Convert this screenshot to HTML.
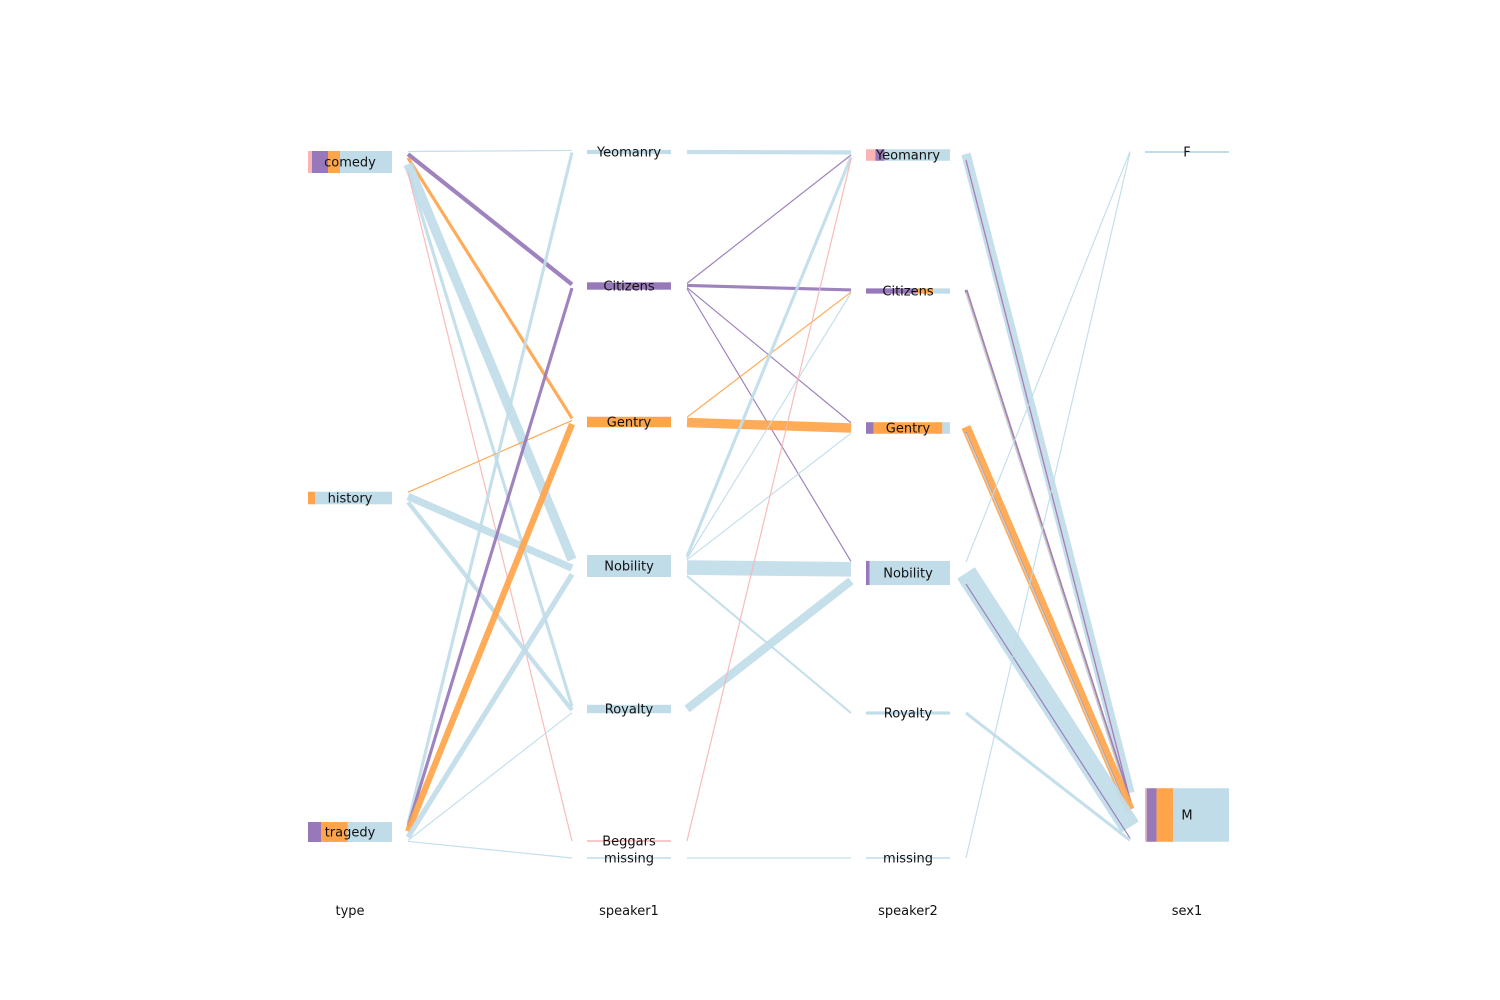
<!DOCTYPE html>
<html><head><meta charset="utf-8"><style>
html,body{margin:0;padding:0;background:#fff}
svg{display:block}
text{font-family:"DejaVu Sans","Liberation Sans",sans-serif;font-size:13px;fill:#111}
</style></head><body>
<svg id="chart" width="1500" height="1000"></svg>
<script>
// ---- data ----
const columns = ["type","speaker1","speaker2","sex1"];
const typeCats = ["comedy","history","tragedy"];
const speaker1Cats = ["Yeomanry","Citizens","Gentry","Nobility","Royalty","Beggars","missing"];
const speaker2Cats = ["Yeomanry","Citizens","Gentry","Nobility","Royalty","missing"];
const sexCats = ["F","M"];
const linksTypeS1 = [
 ["comedy","Yeomanry","blue",1],["comedy","Citizens","purple",4],["comedy","Gentry","orange",3],
 ["comedy","Nobility","blue",9],["comedy","Royalty","blue",3],["comedy","Beggars","pink",1],
 ["history","Gentry","orange",1],["history","Nobility","blue",7],["history","Royalty","blue",4],
 ["tragedy","Yeomanry","blue",3],["tragedy","Citizens","purple",3],["tragedy","Gentry","orange",6],
 ["tragedy","Nobility","blue",5],["tragedy","Royalty","blue",1],["tragedy","missing","blue",1]
];
const linksS1S2 = [
 ["Yeomanry","Yeomanry","blue",4],
 ["Citizens","Yeomanry","purple",1],["Citizens","Citizens","purple",3],["Citizens","Gentry","purple",1],["Citizens","Nobility","purple",1],
 ["Gentry","Citizens","orange",1],["Gentry","Gentry","orange",9],
 ["Nobility","Yeomanry","blue",3],["Nobility","Citizens","blue",1],["Nobility","Gentry","blue",1],["Nobility","Nobility","blue",14],["Nobility","Royalty","blue",2],
 ["Royalty","Nobility","blue",8],
 ["Beggars","Yeomanry","pink",1],
 ["missing","missing","blue",1]
];
const linksS2Sex = [
 ["Yeomanry","M","blue",9],["Yeomanry","M","pink",1],["Yeomanry","M","purple",1],
 ["Citizens","M","purple",3],["Citizens","M","orange",1],["Citizens","M","blue",1],
 ["Gentry","M","orange",9],["Gentry","M","purple",1],["Gentry","M","blue",1],
 ["Nobility","F","blue",1],["Nobility","M","blue",20],["Nobility","M","purple",1],
 ["Royalty","M","blue",3],
 ["missing","F","blue",1]
];
// ---- layout ----
const COLORS = {pink:"#f9b5b5",purple:"#9778b8",orange:"#ffa44a",blue:"#c0dce9"};
const colorOrder = ["pink","purple","orange","blue"];
const colX = [308,587,866,1145];
const boxW = 84;
const nodeY = [
 {comedy:162,history:498,tragedy:832},
 {Yeomanry:152,Citizens:286,Gentry:422,Nobility:566,Royalty:709,Beggars:841,missing:858},
 {Yeomanry:155,Citizens:291,Gentry:428,Nobility:573,Royalty:713,missing:858},
 {F:152,M:815}
];
const cats = [typeCats,speaker1Cats,speaker2Cats,sexCats];
const linkSets = [linksTypeS1,linksS1S2,linksS2Sex];
const k = 1.05;
const svg = document.getElementById('chart');
const NS = "http://www.w3.org/2000/svg";
function mk(tag, attrs){const e=document.createElementNS(NS,tag);for(const a in attrs)e.setAttribute(a,attrs[a]);return e;}
const outTot = cats.map(()=>({})), inTot = cats.map(()=>({}));
const outColor = cats.map(()=>({})), inColor = cats.map(()=>({}));
linkSets.forEach((set,c)=>set.forEach(([s,t,col,v])=>{
  outTot[c][s]=(outTot[c][s]||0)+v; inTot[c+1][t]=(inTot[c+1][t]||0)+v;
  outColor[c][s]=outColor[c][s]||{}; outColor[c][s][col]=(outColor[c][s][col]||0)+v;
  inColor[c+1][t]=inColor[c+1][t]||{}; inColor[c+1][t][col]=(inColor[c+1][t][col]||0)+v;
}));
const gL = mk('g',{});


svg.appendChild(gL);
linkSets.forEach((set,c)=>{
  const sOff={}, tOff={};
  const sorted = set.slice().sort((a,b)=>cats[c+1].indexOf(a[1])-cats[c+1].indexOf(b[1]));
  const sortedT = set.slice().sort((a,b)=>cats[c].indexOf(a[0])-cats[c].indexOf(b[0]));
  const sy=new Map(), ty=new Map();
  sorted.forEach(l=>{const tot=outTot[c][l[0]]*k;const o=sOff[l[0]]||0;sy.set(l,nodeY[c][l[0]]-tot/2+o+l[3]*k/2);sOff[l[0]]=o+l[3]*k;});
  sortedT.forEach(l=>{const tot=inTot[c+1][l[1]]*k;const o=tOff[l[1]]||0;ty.set(l,nodeY[c+1][l[1]]-tot/2+o+l[3]*k/2);tOff[l[1]]=o+l[3]*k;});
  set.forEach(l=>{
    const ln = mk('line',{x1:colX[c]+boxW+16,y1:sy.get(l),x2:colX[c+1]-15,y2:ty.get(l),
      stroke:COLORS[l[2]],'stroke-width':Math.max(1.2,l[3]*k),'stroke-opacity':0.92});
    
    
    gL.appendChild(ln);
  });
});
cats.forEach((list,c)=>{
  list.forEach(cat=>{
    const colMap = (c===0||c===1) ? outColor[c][cat] : inColor[c][cat];
    const tot = Math.max(outTot[c][cat]||0, inTot[c][cat]||0);
    const h = Math.max(1.5, tot*k);
    const y = nodeY[c][cat]-h/2;
    const g = mk('g',{});
    
    
    let x = colX[c];
    const sum = Object.values(colMap||{}).reduce((a,b)=>a+b,0)||1;
    colorOrder.forEach(col=>{
      if(!colMap||!colMap[col])return;
      const w = boxW*colMap[col]/sum;
      const r = mk('rect',{x:x,y:y,width:w,height:h,fill:COLORS[col]});
      
      
      g.appendChild(r); x+=w;
    });
    const t = mk('text',{x:colX[c]+boxW/2,y:nodeY[c][cat]+4.5,'text-anchor':'middle'});
    t.textContent = cat;
    
    
    g.appendChild(t);
    svg.appendChild(g);
  });
  const ct = mk('text',{x:colX[c]+boxW/2,y:915,'text-anchor':'middle'});
  ct.textContent = columns[c];
  
  
  svg.appendChild(ct);
});
</script>
</body></html>
